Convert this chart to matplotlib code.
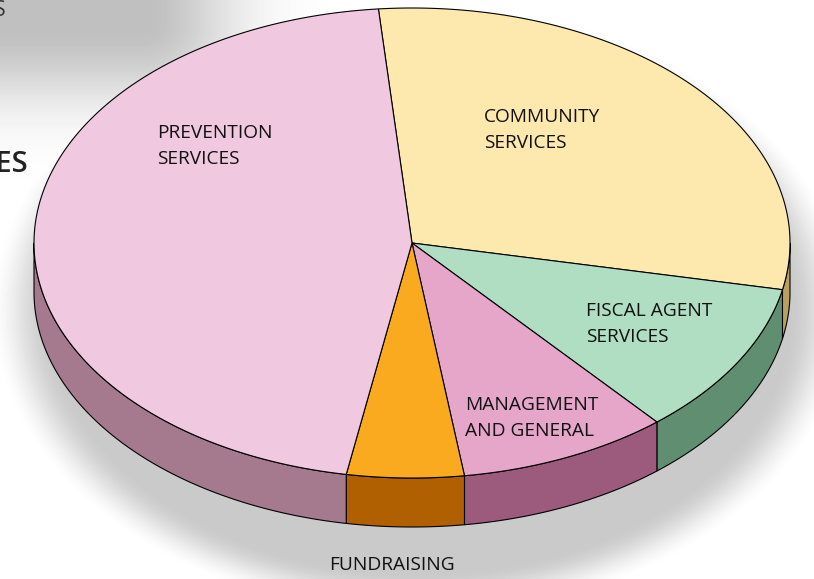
import numpy as np
import matplotlib.pyplot as plt
from matplotlib.patches import Polygon

labels = ["COMMUNITY\nSERVICES", "FISCAL AGENT\nSERVICES", "MANAGEMENT\nAND GENERAL",
          "FUNDRAISING", "PREVENTION\nSERVICES"]
values = [29.6, 10.6, 9.0, 5.0, 45.8]
top_colors = ["#FDE8AD", "#B0DEC3", "#E6A6CA", "#FAAA1F", "#F0C8E0"]
side_colors = ["#B8A060", "#5F8F70", "#9C5A7C", "#B06000", "#A57A8F"]
label_pos = [(484, 108), (586, 302), (465, 396), (329, 556), (157, 124)]

W, H = 814, 579
cx, cy, a, b, depth = 412, 243, 378, 235, 49
start = 95.1

plt.rcParams['font.family'] = ['Open Sans', 'DejaVu Sans']
fig = plt.figure(figsize=(W / 100, H / 100), dpi=100)
ax = fig.add_axes([0, 0, 1, 1])
ax.set_xlim(0, W)
ax.set_ylim(H, 0)
ax.axis('off')

# soft drop shadows
yy, xx = np.mgrid[0:H, 0:W] + 0.5
de = np.sqrt(((xx - 420) / 400) ** 2 + ((yy - 310) / 285) ** 2)
t = np.clip((1.08 - de) / 0.16, 0, 1)
dark1 = 0.21 * t * t * (3 - 2 * t)
dr = np.hypot(np.maximum(xx - 140, 0) * 0.8, np.maximum(yy - 25, 0))
dark2 = 0.25 * np.exp(-(dr / 75) ** 2)
shade = 1 - np.maximum(dark1, dark2)
ax.imshow(shade, cmap='gray', vmin=0, vmax=1, extent=(0, W, H, 0), zorder=0)


def pt(deg, dy=0):
    r = np.radians(deg)
    return cx + a * np.cos(r), cy - b * np.sin(r) + dy


# slice angle ranges, clockwise from start
bounds = []
ang = start
for v in values:
    a2 = ang - v * 3.6
    bounds.append((a2, ang))
    ang = a2

# side faces (front half only: angles in [-180, 0])
for (lo, hi), c in zip(bounds, side_colors):
    for off in (0, -360, 360):
        s_lo = max(lo + off, -180)
        s_hi = min(hi + off, 0)
        if s_hi > s_lo:
            ts = np.linspace(s_lo, s_hi, 80)
            upper = [pt(x) for x in ts]
            lower = [pt(x, depth) for x in ts[::-1]]
            ax.add_patch(Polygon(upper + lower, closed=True, fc=c, ec='black',
                                 lw=0.8, zorder=2))

# top faces
for (lo, hi), c in zip(bounds, top_colors):
    ts = np.linspace(lo, hi, 200)
    verts = [(cx, cy)] + [pt(x) for x in ts]
    ax.add_patch(Polygon(verts, closed=True, fc=c, ec='black', lw=0.8, zorder=3))

for lab, (x, y) in zip(labels, label_pos):
    ax.text(x, y, lab, fontsize=13.8, color='#111111', ha='left', va='top',
            linespacing=1.55, zorder=4)

# cut-off heading text at the left edge
ax.text(28, 164, "SERVICES", fontsize=21, fontweight='semibold', color='#222222',
        ha='right', va='center', zorder=4)
ax.text(6, 10, "PROGRAMS", fontsize=15, color='#333333', ha='right', va='center',
        zorder=4)

fig.savefig("out.png", dpi=100)
